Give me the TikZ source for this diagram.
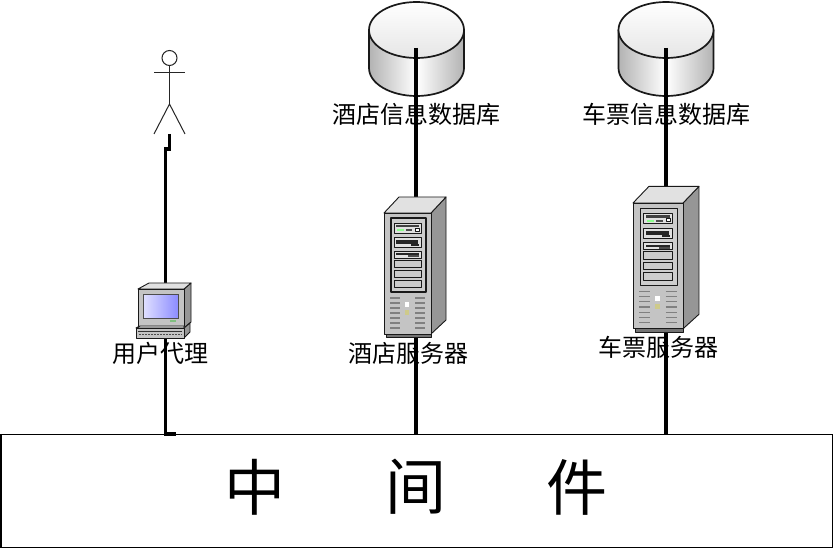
\documentclass[tikz,border=0pt]{standalone}
\usepackage{fontspec}
\newfontfamily\cjk{Noto Sans CJK SC}
\usetikzlibrary{positioning}
\definecolor{srvfront}{RGB}{196,196,196}
\definecolor{srvtop}{RGB}{225,225,225}
\definecolor{srvside}{RGB}{150,150,150}
\definecolor{panel}{RGB}{205,205,205}
\tikzset{
  x=1pt,y=-1pt,
  label text/.style={font=\cjk\fontsize{24}{24}\selectfont,inner sep=0pt,text=black},
  big text/.style={font=\cjk\fontsize{61}{61}\selectfont,inner sep=0pt,text=black},
  link/.style={draw=black,line width=3.2pt,line join=miter},
  outline/.style={draw=black!90,line width=0.9pt,line join=round},
  thin line/.style={draw=black!85,line width=1pt},
  vent/.style={draw=black!50,line width=1.2pt},
  pics/dbcyl/.style={code={
    \path[outline,line width=1.7pt,left color=black!30,right color=black!30,middle color=white]
      (-47.5,0) -- (-47.5,38) arc[start angle=180,end angle=0,x radius=47.5,y radius=28] -- (47.5,0) -- cycle;
    \path[outline,line width=1.7pt,top color=white,bottom color=black!10]
      (0,0) ellipse[x radius=47.5,y radius=28];
  }},
  pics/srv/.style={code={
    \path[outline,fill=srvside] (47,0) -- (62,-16) -- (62,107) -- (47,121) -- cycle;
    \path[outline,fill=srvtop] (0,0) -- (15,-16) -- (62,-16) -- (47,0) -- cycle;
    \path[outline,fill=black!55] (2,121) rectangle (47,124);
    \path[outline,fill=srvfront] (0,0) rectangle (47,121);
    \path[outline,line width=1.1pt,fill=panel] (7,5) rectangle (42,79);
    \path[outline,fill=black!12] (10,10) rectangle (37,20);
    \path[fill=black!75] (12,12) rectangle (35,14);
    \path[fill=black!70] (22,16) rectangle (28,18);
    \path[outline,fill=white] (31,15) rectangle (35,18);
    \path[fill=green!45!white] (13,16) rectangle (20,18);
    \path[outline,fill=black!12] (10,24) rectangle (37,34);
    \path[fill=black!85] (12,27) rectangle (34,31);
    \path[fill=black!85] (27,31) rectangle (35,33);
    \path[outline,fill=black!12] (10,38) rectangle (37,45);
    \path[fill=black!85] (12,40) rectangle (35,42);
    \path[fill=black!70] (24,42) rectangle (35,44);
    \path[outline,fill=panel] (10,47) rectangle (37,54);
    \path[outline,fill=panel] (10,57) rectangle (37,64);
    \path[outline,fill=panel] (10,67) rectangle (37,74);
    \foreach \v in {85,90,95,100,105,110,115}{
      \draw[vent] (6,\v) -- (16,\v);
      \draw[vent] (31,\v) -- (41,\v);
    }
    \path[fill=white] (21,89) rectangle (25,94);
    \path[fill=yellow!60!black!55] (21,97) rectangle (25,102);
  }},
  pics/pc/.style={code={
    \path[outline,fill=srvside] (46,0) -- (53,-6) -- (53,33) -- (46,39) -- cycle;
    \path[outline,fill=srvtop] (0,0) -- (11,-6) -- (53,-6) -- (46,0) -- cycle;
    \path[outline,fill=srvfront] (0,0) rectangle (46,37);
    \path[draw=black!70,line width=0.7pt,left color=blue!12!white,right color=blue!45!white] (5,5) rectangle (40,29);
    \path[fill=green!50!black!50] (32,31) rectangle (38,33);
    \path[outline,fill=srvside] (46,39) -- (52,34) -- (52,43) -- (46,49) -- cycle;
    \path[outline,fill=srvtop] (2,37) -- (46,37) -- (46,39) -- (-2,39) -- cycle;
    \path[outline,fill=srvfront] (-2,39) rectangle (46,49);
    \draw[black!80,line width=1pt] (0,42) -- (44,42);
    \draw[black!70,line width=1.2pt,dash pattern=on 2pt off 1pt] (1,45.5) -- (44,45.5);
  }}
}
\begin{document}
\begin{tikzpicture}
\useasboundingbox[fill=white] (0,0) rectangle (833,548);
\coordinate (dbA) at (416.5,30);
\coordinate (dbB) at (666,30);
\coordinate (srvA) at (384,213);
\coordinate (srvB) at (633,203);
\coordinate (pcU) at (138,289);
\coordinate (actorFoot) at (169.5,134);
\coordinate (actorKnee) at (169.5,149);
\coordinate (dropTop) at (165.5,149);
\coordinate (dbAin) at (416,48);
\coordinate (dbBin) at (666,48);
\node[draw=black,line width=1.1pt,fill=white,minimum width=831.5pt,minimum height=113pt,inner sep=0pt,anchor=north west] (mid) at (0.5,434) {};
\pic at (dbA) {dbcyl};
\pic at (dbB) {dbcyl};
\draw[link] (actorFoot) -- (actorKnee) -- (dropTop) -- (dropTop |- mid.north) -- ++(10,0);
\draw[link] (dbAin) -- (dbAin |- mid.north);
\draw[link] (dbBin) -- (dbBin |- mid.north);
\node[circle,draw=black!85,line width=1pt,minimum size=15pt,inner sep=0pt] (head) at (169.5,58) {};
\coordinate (hip) at (169.5,104);
\coordinate (armL) at (154,73);
\coordinate (armR) at (185,73);
\coordinate (legL) at (154,134);
\coordinate (legR) at (185,134);
\draw[thin line] (head.south) -- (hip);
\draw[thin line] (armL) -- (armR);
\draw[thin line] (legL) -- (hip) -- (legR);
\pic at (pcU) {pc};
\pic at (srvA) {srv};
\pic[xscale=1.064,yscale=1.04] at (srvB) {srv};
\node[label text] (lblUser) at (160,353) {用户代理};
\node[label text] (lblHotel) at (408,353) {酒店服务器};
\node[label text] (lblTicket) at (658,347) {车票服务器};
\node[label text] (lblHdb) at (416,114) {酒店信息数据库};
\node[label text] (lblTdb) at (666,114) {车票信息数据库};
\node[big text] (m1) at (255,487) {中};
\node[big text] (m2) at (416,487) {间};
\node[big text] (m3) at (577,487) {件};
\end{tikzpicture}
\end{document}
